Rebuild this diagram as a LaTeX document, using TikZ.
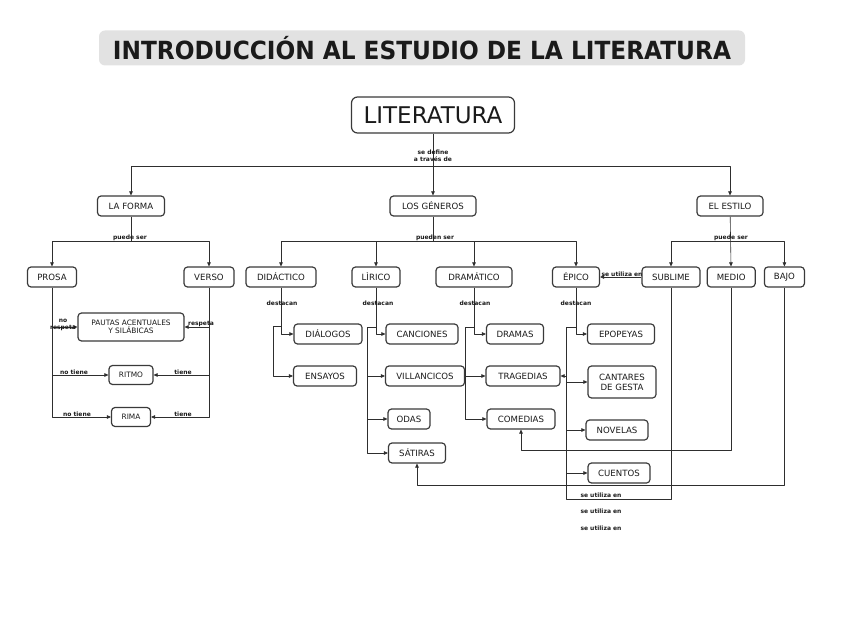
\documentclass[tikz,border=0pt]{standalone}
\usepackage{fontspec}
\setsansfont{DejaVu Sans}
\newfontfamily\titlefont[FakeStretch=0.93]{DejaVu Sans}
\usepackage{tikz}
\usetikzlibrary{arrows.meta,positioning,calc}
\definecolor{ink}{HTML}{1A1A1A}
\definecolor{boxline}{HTML}{3A3A3A}
\definecolor{linkgray}{HTML}{2E2E2E}
\definecolor{titlegray}{HTML}{E2E2E2}

\begin{document}
\begin{tikzpicture}[
    x=1pt, y=-1pt,
    font=\sffamily,
    line join=round,
    concept/.style={draw=boxline, fill=white, rounded corners=3.5pt, line width=1.2pt, minimum height=20pt, inner xsep=6pt, inner ysep=2pt, align=center, text=ink, font=\sffamily\fontsize{8.6}{10}\selectfont},
    rootbox/.style={concept, rounded corners=6pt, minimum width=163pt, minimum height=36pt, font=\sffamily\fontsize{23}{26}\selectfont},
    titlebox/.style={fill=titlegray, rounded corners=6pt, minimum width=646pt, minimum height=35pt, inner sep=0pt, text=ink, font=\titlefont\bfseries\fontsize{25}{27}\selectfont},
    link/.style={draw=linkgray, line width=0.6pt, -{Triangle[length=4pt,width=3.6pt]}},
    wire/.style={draw=linkgray, line width=0.6pt},
    tag/.style={font=\sffamily\bfseries\fontsize{6}{6.6}\selectfont, text=ink, inner sep=0.5pt, align=center}
]
\useasboundingbox (0,0) rectangle (848,636);

% Title
\node[titlebox] (title) at (422,48) {INTRODUCCIÓN AL ESTUDIO DE LA LITERATURA};

% Root
\node[rootbox] (literatura) at (433,115) {LITERATURA};

% First level
\node[concept, minimum width=67pt] (forma) at (131,206) {LA FORMA};
\node[concept, minimum width=86pt] (generos) at (433,206) {LOS GÉNEROS};
\node[concept, minimum width=66pt] (estilo) at (730,206) {EL ESTILO};

% La forma
\node[concept, minimum width=49pt] (prosa) at (52,277) {PROSA};
\node[concept, minimum width=50pt] (verso) at (209,277) {VERSO};
\node[concept, minimum width=106pt, minimum height=28pt, font=\sffamily\fontsize{7.4}{8.4}\selectfont] (pautas) at (131,327) {PAUTAS ACENTUALES\\Y SILÁBICAS};
\node[concept, minimum width=44pt, minimum height=19pt, font=\sffamily\fontsize{7.4}{8.4}\selectfont] (ritmo) at (131,375) {RITMO};
\node[concept, minimum width=39pt, minimum height=19pt, font=\sffamily\fontsize{7.4}{8.4}\selectfont] (rima) at (131,417) {RIMA};

% Los generos
\node[concept, minimum width=70pt] (didactico) at (281,277) {DIDÁCTICO};
\node[concept, minimum width=48pt] (lirico) at (376,277) {LÌRICO};
\node[concept, minimum width=76pt] (dramatico) at (474,277) {DRAMÁTICO};
\node[concept, minimum width=47pt] (epico) at (576,277) {ÉPICO};

% El estilo
\node[concept, minimum width=58pt] (sublime) at (671,277) {SUBLIME};
\node[concept, minimum width=48pt, right=6pt of sublime] (medio) {MEDIO};
\node[concept, minimum width=40pt, right=8pt of medio] (bajo) {BAJO};

% Didactico
\node[concept, minimum width=68pt] (dialogos) at (328,334) {DIÁLOGOS};
\node[concept, minimum width=63pt] (ensayos) at (325,376) {ENSAYOS};

% Lirico
\node[concept, minimum width=72pt] (canciones) at (422,334) {CANCIONES};
\node[concept, minimum width=79pt] (villancicos) at (425,376) {VILLANCICOS};
\node[concept, minimum width=42pt] (odas) at (409,419) {ODAS};
\node[concept, minimum width=57pt] (satiras) at (417,453) {SÁTIRAS};

% Dramatico
\node[concept, minimum width=57pt] (dramas) at (515,334) {DRAMAS};
\node[concept, minimum width=74pt] (tragedias) at (523,376) {TRAGEDIAS};
\node[concept, minimum width=68pt] (comedias) at (521,419) {COMEDIAS};

% Epico
\node[concept, minimum width=67pt] (epopeyas) at (621,334) {EPOPEYAS};
\node[concept, minimum width=68pt, minimum height=32pt] (cantares) at (622,382) {CANTARES\\DE GESTA};
\node[concept, minimum width=62pt] (novelas) at (617,430) {NOVELAS};
\node[concept, minimum width=62pt] (cuentos) at (619,473) {CUENTOS};

% Bus points
\coordinate (litbus) at (433,166);
\coordinate (formabus) at (131,241);
\coordinate (genbus) at (433,241);
\coordinate (estbus) at (730,241);
\coordinate (didknee) at (281,326);
\coordinate (lirknee) at (376,327);
\coordinate (draknee) at (474,327);
\coordinate (epiknee) at (576,327);
\coordinate (subcorner) at (566,499);

% Literatura
\draw[link] (literatura) -- (generos);
\draw[link] (litbus) -| (forma);
\draw[link] (litbus) -| (estilo);
\node[tag] at (433,156) {se define\\a través de};

% La forma
\draw[wire] (forma) -- (formabus);
\draw[link] (formabus) -| (prosa);
\draw[link] (formabus) -| (verso);
\node[tag] at (130,238) {puede ser};
\draw[link] (prosa.south) |- (pautas.west);
\draw[link] (prosa.south) |- (ritmo.west);
\draw[link] (prosa.south) |- (rima.west);
\draw[link] (verso.south) |- (pautas.east);
\draw[link] (verso.south) |- (ritmo.east);
\draw[link] (verso.south) |- (rima.east);
\node[tag] at (63,325) {no\\respeta};
\node[tag] at (201,324) {respeta};
\node[tag] at (74,372) {no tiene};
\node[tag] at (183,372) {tiene};
\node[tag] at (77,414) {no tiene};
\node[tag] at (183,414) {tiene};

% Los generos
\draw[wire] (generos) -- (genbus);
\draw[link] (genbus) -| (didactico);
\draw[link] (genbus) -| (lirico);
\draw[link] (genbus) -| (dramatico);
\draw[link] (genbus) -| (epico);
\node[tag] at (435,238) {pueden ser};

% El estilo
\draw[link] (estilo) -- (medio);
\draw[link] (estbus) -| (sublime);
\draw[link] (estbus) -| (bajo);
\node[tag] at (731,238) {puede ser};

% Didactico
\draw[link] (didactico.south) |- (dialogos.west);
\draw[link] (didknee) -- ++(-8,0) |- (ensayos.west);
\node[tag] at (282,303) {destacan};

% Lirico
\draw[link] (lirico.south) |- (canciones.west);
\draw[link] (lirknee) -- ++(-9,0) |- (villancicos.west);
\draw[link] (lirknee) -- ++(-9,0) |- (odas.west);
\draw[link] (lirknee) -- ++(-9,0) |- (satiras.west);
\node[tag] at (378,303) {destacan};

% Dramatico
\draw[link] (dramatico.south) |- (dramas.west);
\draw[link] (draknee) -- ++(-9,0) |- (tragedias.west);
\draw[link] (draknee) -- ++(-9,0) |- (comedias.west);
\node[tag] at (475,303) {destacan};

% Epico
\draw[link] (epico.south) |- (epopeyas.west);
\draw[link] (epiknee) -- ++(-10,0) |- (cantares.west);
\draw[link] (epiknee) -- ++(-10,0) |- (novelas.west);
\draw[link] (epiknee) -- ++(-10,0) |- (cuentos.west);
\node[tag] at (576,303) {destacan};

% Se utiliza en
\draw[link] (sublime) -- (epico);
\node[tag] at (622,274) {se utiliza en};
\draw[link] (sublime.south) |- (subcorner) |- (tragedias.east);
\draw[link] (medio.south) |- ($(comedias.south)+(0,21)$) -- (comedias.south);
\draw[link] (bajo.south) |- ($(satiras.south)+(0,22)$) -- (satiras.south);
\node[tag] at (601,495) {se utiliza en};
\node[tag] at (601,511) {se utiliza en};
\node[tag] at (601,528) {se utiliza en};

\end{tikzpicture}
\end{document}
